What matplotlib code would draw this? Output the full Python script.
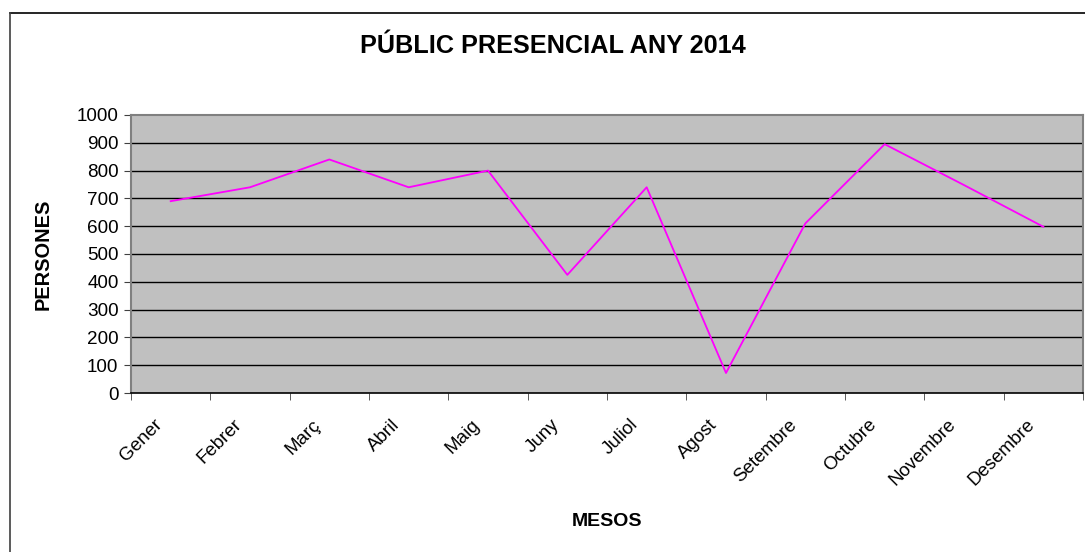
import numpy as np
import matplotlib.pyplot as plt
from matplotlib.lines import Line2D
from matplotlib.transforms import ScaledTranslation

plt.rcParams['font.family'] = ['Liberation Sans', 'DejaVu Sans']

mesos = ['Gener', 'Febrer', 'Març', 'Abril', 'Maig', 'Juny', 'Juliol', 'Agost',
         'Setembre', 'Octubre', 'Novembre', 'Desembre']
persones = [690, 740, 840, 740, 800, 425, 740, 72, 610, 895, 748, 598]
y_ticks = list(range(0, 1001, 100))

fig = plt.figure(figsize=(10.85, 5.52), dpi=100)
ax = fig.add_axes([131 / 1085, 159 / 552, 952 / 1085, 278 / 552])

x = np.arange(len(mesos))
ax.set_facecolor('#C0C0C0')
ax.plot(x, persones, color='#FF00FF', linewidth=1.3, zorder=3)

ax.set_xlim(-0.5, len(mesos) - 0.5)
ax.set_ylim(0, 1000)
ax.set_yticks(y_ticks)
ax.set_yticklabels([str(v) for v in y_ticks], fontsize=13.6)
for v in y_ticks[1:-1]:
    ax.axhline(v, color='black', linewidth=1.0, zorder=2)

ax.set_xticks(x)
ax.set_xticks(np.arange(-0.5, len(mesos)), minor=True)
ax.set_xticklabels(mesos, rotation=45, ha='right', va='center',
                   rotation_mode='anchor', fontsize=13.5)
ax.tick_params(axis='x', which='major', length=0, pad=21)
ax.tick_params(axis='x', which='minor', length=5, color='#404040')
ax.tick_params(axis='y', length=5, color='#404040', pad=4)
shift = ScaledTranslation(-11 / 100, 0, fig.dpi_scale_trans)
for lbl in ax.get_xticklabels():
    lbl.set_transform(lbl.get_transform() + shift)

for side in ['top', 'right', 'left']:
    ax.spines[side].set_color('#808080')
    ax.spines[side].set_linewidth(1.5)
ax.spines['bottom'].set_color('black')
ax.spines['bottom'].set_linewidth(1.2)

fig.text(553 / 1085, 1 - 46 / 552, 'PÚBLIC PRESENCIAL ANY 2014',
         ha='center', va='center', fontsize=18.2, fontweight='bold')
fig.text(607 / 1085, 1 - 521 / 552, 'MESOS',
         ha='center', va='center', fontsize=14, fontweight='bold')
fig.text(43 / 1085, 1 - 254 / 552, 'PERSONES', rotation=90,
         ha='center', va='center', fontsize=14.4, fontweight='bold')

# border of the chart area (top and left only visible)
fig.add_artist(Line2D([10 / 1085, 1], [1 - 12.5 / 552, 1 - 12.5 / 552],
                      transform=fig.transFigure, color='black', linewidth=1.2))
fig.add_artist(Line2D([10 / 1085, 10 / 1085], [0, 1 - 12.5 / 552],
                      transform=fig.transFigure, color='#404040', linewidth=1.2))

fig.savefig('out.png', dpi=100)
